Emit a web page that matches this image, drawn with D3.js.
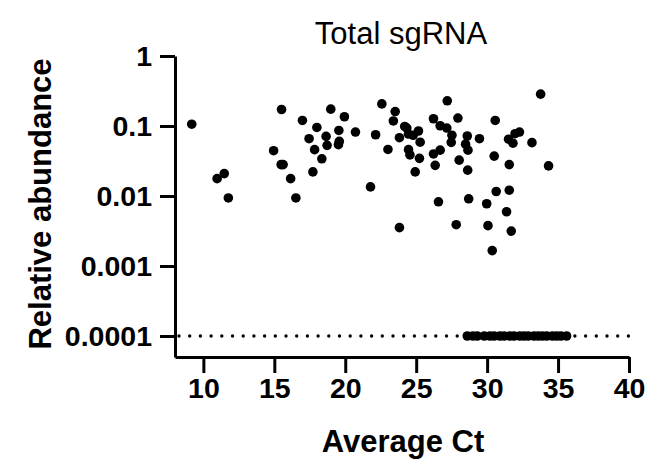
<!DOCTYPE html>
<html>
<head>
<meta charset="utf-8">
<script src="https://cdn.jsdelivr.net/npm/d3@7"></script>
<style>
  body { margin: 0; background: #fff; }
  svg text { font-family: "Liberation Sans", Arial, sans-serif; }
</style>
</head>
<body>
<div id="chart"></div>
<script>
// detected samples: average Ct and relative abundance
const ctValues = [
  9.18, 10.97, 11.47, 11.76, 14.95, 15.51, 15.48, 15.62, 16.15, 16.52,
  16.98, 17.45, 18.0, 17.72, 17.84, 18.35, 18.65, 18.72, 18.98, 19.94,
  19.55, 20.72, 19.58, 19.52, 22.14, 22.58, 23.52, 23.39, 24.19, 24.34,
  23.82, 24.46, 24.79, 25.16, 25.28, 23.01, 24.46, 24.56, 25.23, 24.93,
  21.78, 23.82, 26.22, 27.19, 27.94, 26.69, 27.16, 27.52, 28.6, 29.46,
  27.47, 28.48, 28.65, 26.69, 26.22, 28.03, 26.34, 28.63, 26.57, 28.70,
  29.97, 27.82, 30.06, 33.77, 30.57, 31.51, 31.82, 31.97, 32.28, 33.16,
  30.5, 31.56, 34.33, 30.64, 31.56, 31.37, 31.70, 30.36
];
const abundance = [
  0.106, 0.0177, 0.0209, 0.00937, 0.0444, 0.172, 0.0281, 0.0281, 0.0177, 0.00937,
  0.120, 0.0659, 0.0953, 0.0221, 0.0459, 0.0340, 0.071, 0.0529, 0.174, 0.1355,
  0.0864, 0.082, 0.0603, 0.0541, 0.075, 0.207, 0.161, 0.118, 0.0986, 0.0935,
  0.068, 0.0768, 0.0738, 0.0848, 0.0587, 0.0462, 0.0459, 0.0386, 0.0345, 0.0221,
  0.0135, 0.00353, 0.127, 0.229, 0.130, 0.1008, 0.0935, 0.0738, 0.072, 0.0659,
  0.0583, 0.055, 0.0452, 0.0452, 0.0399, 0.0325, 0.0274, 0.0234, 0.00827, 0.00912,
  0.00775, 0.00389, 0.00377, 0.285, 0.120, 0.0648, 0.0568, 0.0776, 0.082, 0.0578,
  0.0371, 0.0281, 0.0269, 0.0116, 0.0121, 0.00596, 0.00315, 0.00166
];
// samples below detection, drawn on the 0.0001 line
const undetectedCt = [
  28.6, 29.0, 29.3, 29.8, 30.2, 30.5, 30.9, 31.2, 31.6, 31.9, 32.3,
  32.6, 32.9, 33.3, 33.6, 33.9, 34.2, 34.6, 34.9, 35.2, 35.6
];
const detectionLimit = 0.0001;

const xTicks = [10, 15, 20, 25, 30, 35, 40];
const yTicks = [1, 0.1, 0.01, 0.001, 0.0001];
const yTickLabels = ["1", "0.1", "0.01", "0.001", "0.0001"];

const W = 647, H = 460;
const plotLeft = 175, plotRight = 629, plotTop = 56, plotBottom = 357;

const svg = d3.select("#chart").append("svg")
  .attr("width", W)
  .attr("height", H);

const x = d3.scaleLinear().domain([8, 40]).range([plotLeft, plotRight]);
const y = d3.scaleLog().domain([Math.pow(10, -4.3), 1]).range([plotBottom, plotTop]);

// dotted detection line
svg.append("line")
  .attr("x1", plotLeft + 4)
  .attr("x2", plotRight)
  .attr("y1", y(detectionLimit))
  .attr("y2", y(detectionLimit))
  .attr("stroke", "#000")
  .attr("stroke-width", 3.4)
  .attr("stroke-linecap", "round")
  .attr("stroke-dasharray", "0 10.7");

// axes
const xAxis = svg.append("g")
  .attr("transform", `translate(0,${plotBottom})`)
  .call(d3.axisBottom(x).tickValues(xTicks).tickSize(16).tickSizeOuter(0).tickPadding(5));

const yAxis = svg.append("g")
  .attr("transform", `translate(${plotLeft},0)`)
  .call(d3.axisLeft(y).tickValues(yTicks).tickFormat((d, i) => yTickLabels[i])
    .tickSize(15).tickSizeOuter(0).tickPadding(8));

[xAxis, yAxis].forEach(g => {
  g.select(".domain").attr("stroke-width", 3);
  g.selectAll(".tick line").attr("stroke-width", 3);
  g.selectAll(".tick text")
    .attr("fill", "#000")
    .style("font-size", "28.5px")
    .style("font-weight", "bold");
});

// points
const pts = ctValues.map((c, i) => ({ ct: c, v: abundance[i] }))
  .concat(undetectedCt.map(c => ({ ct: c, v: detectionLimit })));

svg.append("g")
  .selectAll("circle")
  .data(pts)
  .enter()
  .append("circle")
  .attr("cx", d => x(d.ct))
  .attr("cy", d => y(d.v))
  .attr("r", 4.8)
  .attr("fill", "#000");

// titles
svg.append("text")
  .attr("x", 401)
  .attr("y", 44)
  .attr("text-anchor", "middle")
  .style("font-size", "31px")
  .text("Total sgRNA");

svg.append("text")
  .attr("x", 403)
  .attr("y", 452)
  .attr("text-anchor", "middle")
  .style("font-size", "31px")
  .style("font-weight", "bold")
  .text("Average Ct");

svg.append("text")
  .attr("transform", "rotate(-90)")
  .attr("x", -204)
  .attr("y", 51)
  .attr("text-anchor", "middle")
  .style("font-size", "31px")
  .style("font-weight", "bold")
  .text("Relative abundance");
</script>
</body>
</html>
